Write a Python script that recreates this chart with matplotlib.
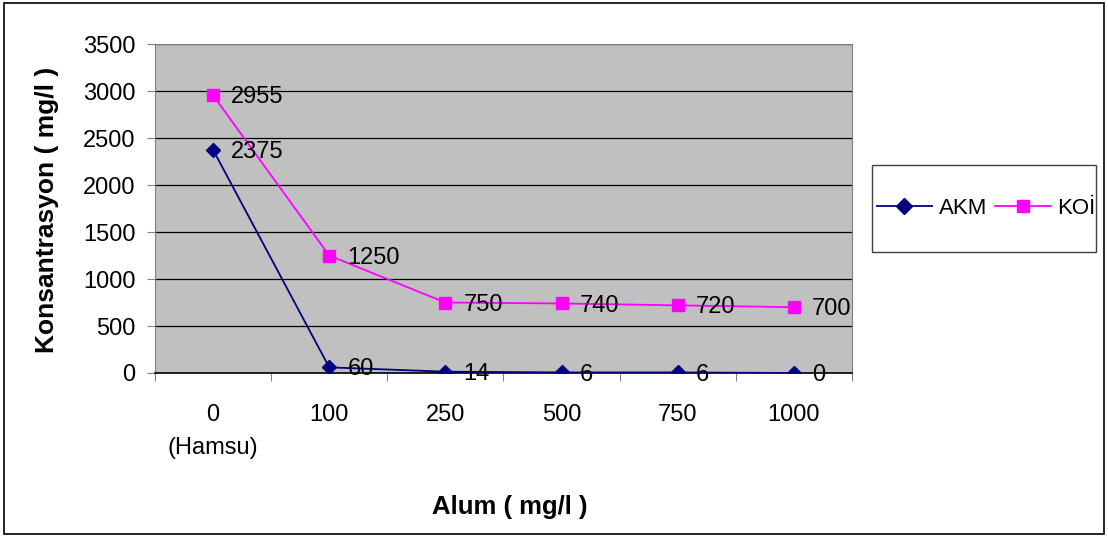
import matplotlib
matplotlib.use("Agg")
import matplotlib.pyplot as plt
from matplotlib.patches import Rectangle

plt.rcParams['font.family'] = ['Liberation Sans', 'DejaVu Sans']

categories = ["0\n(Hamsu)", "100", "250", "500", "750", "1000"]
akm = [2375, 60, 14, 6, 6, 0]
koi = [2955, 1250, 750, 740, 720, 700]
y_ticks = [0, 500, 1000, 1500, 2000, 2500, 3000, 3500]

fig = plt.figure(figsize=(11.08, 5.38), dpi=100)
fig.patches.append(Rectangle((0.004, 0.007), 0.992, 0.987, transform=fig.transFigure,
                             fill=False, edgecolor='black', linewidth=1.2))

ax = fig.add_axes([0.1399, 0.3067, 0.629, 0.6113])
ax.set_facecolor('#C0C0C0')
x = list(range(len(categories)))

ax.plot(x, akm, color='#000080', marker='D', markersize=7, linewidth=1.3, label='AKM', zorder=3)
ax.plot(x, koi, color='#FF00FF', marker='s', markersize=8, linewidth=1.3, label='KOİ', zorder=3)

for xi, v in zip(x, akm):
    ax.annotate(str(v), (xi, v), xytext=(13, -1.5), textcoords='offset points',
                va='center', ha='left', fontsize=17, color='black', zorder=4,
                annotation_clip=False)
for xi, v in zip(x, koi):
    ax.annotate(str(v), (xi, v), xytext=(13, -1.5), textcoords='offset points',
                va='center', ha='left', fontsize=17, color='black', zorder=4,
                annotation_clip=False)

ax.set_xlim(-0.5, len(categories) - 0.5)
ax.set_ylim(0, 3500)
ax.set_yticks(y_ticks)
ax.yaxis.grid(True, color='black', linewidth=0.9)
ax.set_axisbelow(True)

ax.set_xticks([i - 0.5 for i in range(len(categories) + 1)])
ax.set_xticklabels([])
ax.set_xticks(x, minor=True)
ax.set_xticklabels(categories, minor=True, fontsize=17, linespacing=1.7, va='top')
ax.tick_params(axis='x', which='minor', length=0, pad=22)
ax.tick_params(axis='x', which='major', length=6, direction='out', color='#808080')
ax.tick_params(axis='y', length=6, direction='out', labelsize=17, color='#808080', pad=8)

for s in ['top', 'right']:
    ax.spines[s].set_color('#808080')
ax.spines['left'].set_color('#808080')
ax.spines['bottom'].set_color('black')
ax.spines['bottom'].set_linewidth(1.2)

fig.text(47 / 1108, 1 - 210 / 538, 'Konsantrasyon ( mg/l )', rotation=90, fontsize=19,
         fontweight='bold', ha='center', va='center')
fig.text(510 / 1108, 1 - 507 / 538, 'Alum ( mg/l )', fontsize=18.5, fontweight='bold',
         ha='center', va='center')

fig.patches.append(Rectangle((872 / 1108, 1 - 252 / 538), (1096 - 872) / 1108, 87 / 538,
                             transform=fig.transFigure, fill=False, edgecolor='#404040',
                             linewidth=1.0))
leg = fig.legend(loc='center', bbox_to_anchor=(986 / 1108, 1 - 208 / 538), ncol=2, fontsize=16,
                 frameon=False, handlelength=2.5, columnspacing=0.35, handletextpad=0.3,
                 borderpad=0, borderaxespad=0, markerscale=1.15)

fig.savefig('out.png', dpi=100)
